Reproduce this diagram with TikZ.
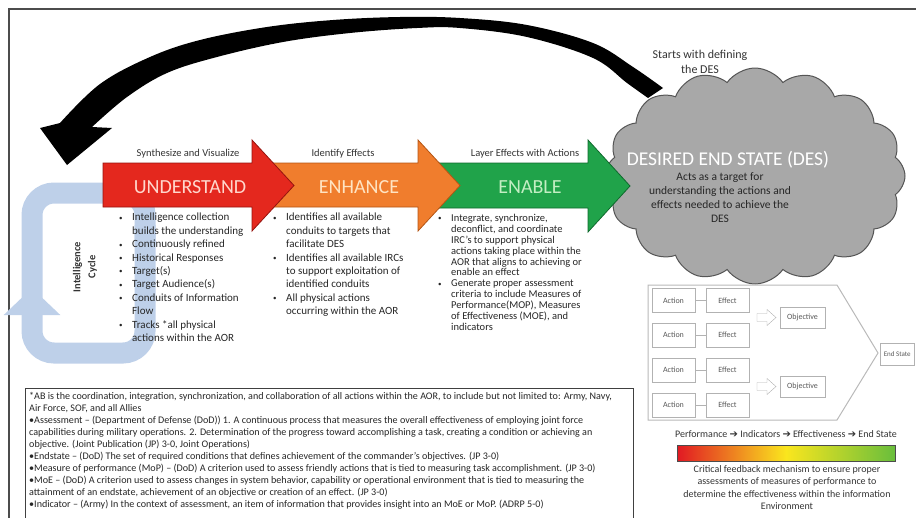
\documentclass[tikz,border=0pt]{standalone}
\usepackage{fontspec}
\setmainfont{Carlito}
\newfontfamily\symfont{DejaVu Sans}
\usetikzlibrary{arrows.meta}
\usetikzlibrary{shapes.symbols}
\usetikzlibrary{positioning}
\definecolor{redfill}{RGB}{228,40,30}
\definecolor{redline}{RGB}{150,20,15}
\definecolor{orgfill}{RGB}{240,125,45}
\definecolor{orgline}{RGB}{180,85,20}
\definecolor{grnfill}{RGB}{32,163,74}
\definecolor{grnline}{RGB}{15,105,45}
\definecolor{cycblue}{RGB}{190,208,233}
\definecolor{cloudgray}{RGB}{168,168,168}
\definecolor{cloudline}{RGB}{85,85,85}
\definecolor{gradred}{RGB}{225,25,35}
\definecolor{gradyel}{RGB}{250,230,30}
\definecolor{gradgrn}{RGB}{105,190,60}
\newcommand{\itm}{\makebox[13pt][l]{\raisebox{0.5pt}{\scriptsize\textbullet}}}
\newcommand{\nxt}{\hspace*{13pt}}
\tikzstyle{lbl}=[font=\fontsize{10.5}{12}\selectfont,text=black!80,inner sep=0pt,anchor=base]
\tikzstyle{word}=[font=\fontsize{20}{24}\selectfont,inner sep=0pt,anchor=base]
\tikzstyle{lst}=[font=\fontsize{11}{13.4}\selectfont,align=left,anchor=north west,inner sep=0pt,text=black!85]
\tikzstyle{ae}=[draw=gray!60,fill=white,minimum width=43pt,minimum height=24pt,inner sep=0pt,font=\fontsize{8}{9}\selectfont,text=gray!70!black]
\tikzstyle{cyc}=[line width=21pt,draw=cycblue,rounded corners=22pt]

\begin{document}
\begin{tikzpicture}[x=1pt,y=-1pt]
        \useasboundingbox (0,0) rectangle (916,517);
        \draw[black!70,line width=1.3pt] (9,540) -- (9,9) -- (930,9);

        \draw[cyc] (32,300) -- (32,193) -- (145,193) -- (145,245);
        \draw[cyc,-{Triangle[width=55pt,length=27pt]}] (145,225) -- (145,353) -- (32,353) -- (32,288);
        \node[rotate=90,font=\bfseries\fontsize{10.5}{15}\selectfont,align=center,text=black!80] (cycle) at (85,267) {Intelligence\\Cycle};

        \fill[black] (40,128) -- plot[smooth,tension=0.6] coordinates {(60,123) (100,84) (150,57) (200,40) (267,27) (333,20) (400,17) (460,18) (527,25) (593,43) (633,67) (663,88)}
          -- plot[smooth,tension=0.6] coordinates {(648,98) (627,83) (593,58) (527,37) (460,28) (417,28) (350,33) (283,42) (217,57) (167,73) (127,97) (92,127)}
          -- (112,128) -- (67,165) -- cycle;

        \node[cloud,cloud puffs=16,cloud puff arc=110,aspect=1.25,draw=cloudline,fill=cloudgray,line width=1pt,minimum width=300pt,minimum height=216pt,inner sep=0pt] (des) at (755,176) {};
        \node[font=\fontsize{19.5}{22}\selectfont,text=white,inner sep=0pt,anchor=base] (destitle) at (728,165) {DESIRED END STATE (DES)};
        \node[font=\fontsize{11.5}{14}\selectfont,align=center,anchor=north,inner sep=0pt,text=black!85] (destext) at (720,172) {Acts as a target for\\understanding the actions and\\effects needed to achieve the\\DES};
        \node[font=\fontsize{12}{14.6}\selectfont,align=center,anchor=north,inner sep=0pt,text=black!80] (start) at (700,50) {Starts with defining\\the DES};

        \filldraw[fill=grnfill,draw=grnline,line width=0.8pt] (435,163) -- (588,163) -- (588,140) -- (630,186) -- (588,232) -- (588,208) -- (435,208) -- cycle;
        \filldraw[fill=orgfill,draw=orgline,line width=0.8pt] (268,163) -- (418,163) -- (418,140) -- (460,185.5) -- (418,231) -- (418,207) -- (268,207) -- cycle;
        \filldraw[fill=redfill,draw=redline,line width=0.8pt] (103,163) -- (252,163) -- (252,140) -- (294,185.5) -- (252,231) -- (252,207) -- (103,207) -- cycle;

        \node[word,text={rgb,255:red,255;green,215;blue,205}] (und) at (190,193) {UNDERSTAND};
        \node[word,text={rgb,255:red,255;green,228;blue,195}] (enh) at (359,193) {ENHANCE};
        \node[word,text={rgb,255:red,195;green,238;blue,195}] (ena) at (530,193) {ENABLE};
        \node[lbl] (synth) at (188,156) {Synthesize and Visualize};
        \node[lbl] (ident) at (343,156) {Identify Effects};
        \node[lbl] (layer) at (525,156) {Layer Effects with Actions};

        \node[lst] (ulist) at (119,213) {\itm Intelligence collection\\\nxt builds the understanding\\\itm Continuously refined\\\itm Historical Responses\\\itm Target(s)\\\itm Target Audience(s)\\\itm Conduits of Information\\\nxt Flow\\\itm Tracks *all physical\\\nxt actions within the AOR};
        \node[lst] (hlist) at (273,213) {\itm Identifies all available\\\nxt conduits to targets that\\\nxt facilitate DES\\\itm Identifies all available IRCs\\\nxt to support exploitation of\\\nxt identified conduits\\\itm All physical actions\\\nxt occurring within the AOR};
        \node[lst,font=\fontsize{10.5}{10.9}\selectfont] (blist) at (438,214) {\itm Integrate, synchronize,\\\nxt deconflict, and coordinate\\\nxt IRC's to support physical\\\nxt actions taking place within the\\\nxt AOR that aligns to achieving or\\\nxt enable an effect\\\itm Generate proper assessment\\\nxt criteria to include Measures of\\\nxt Performance(MOP), Measures\\\nxt of Effectiveness (MOE), and\\\nxt indicators};

        \draw[gray!55,line width=1pt] (648,285) -- (837,285) -- (878,353) -- (837,420) -- (648,420) -- cycle;
        \foreach \r/\yy in {1/300.5,2/335,3/370,4/405} {
          \node[ae] (act\r) at (673.5,\yy) {Action};
          \node[ae] (eff\r) at (727.5,\yy) {Effect};
          \draw[gray!60] (act\r) -- (eff\r);
        }
        \foreach \yy in {317.5,386.5}
          \draw[gray!60,fill=white] (757,\yy-4) -- (767,\yy-4) -- (767,\yy-8) -- (776,\yy) -- (767,\yy+8) -- (767,\yy+4) -- (757,\yy+4) -- cycle;
        \node[ae,minimum width=45pt,minimum height=21pt] (obj1) at (802.5,317.5) {Objective};
        \node[ae,minimum width=45pt,minimum height=21pt] (obj2) at (802.5,386.5) {Objective};
        \node[ae,minimum width=34pt,minimum height=22pt,anchor=west,font=\fontsize{7}{8}\selectfont] (endst) at (880,354) {End State};

        \node[font=\fontsize{10}{12}\selectfont,text=black!80,inner sep=0pt] (scale) at (786,434) {Performance {\symfont ➔} Indicators {\symfont ➔} Effectiveness {\symfont ➔} End State};
        \shade[left color=gradred,right color=gradgrn,middle color=gradyel] (677,445) rectangle (895,461);
        \draw[black!70,line width=1pt] (677,445) rectangle (895,461);
        \node[font=\fontsize{10}{12.5}\selectfont,align=center,anchor=north,inner sep=0pt,text=black!80] (feedback) at (787,465) {Critical feedback mechanism to ensure proper\\assessments of measures of performance to\\determine the effectiveness within the information\\Environment};

        \draw[black!75,line width=0.8pt] (25,388) rectangle (633,545);
        \node[font=\fontsize{10.1}{12}\selectfont,align=left,anchor=north west,inner sep=0pt,text=black!85] (notes) at (29,392) {*AB is the coordination, integration, synchronization, and collaboration of all actions within the AOR, to include but not limited to: Army, Navy,\\
Air Force, SOF, and all Allies\\
\textbullet Assessment -- (Department of Defense (DoD)) 1. A continuous process that measures the overall effectiveness of employing joint force\\
capabilities during military operations. 2. Determination of the progress toward accomplishing a task, creating a condition or achieving an\\
objective. (Joint Publication (JP) 3-0, Joint Operations)\\
\textbullet Endstate -- (DoD) The set of required conditions that defines achievement of the commander's objectives. (JP 3-0)\\
\textbullet Measure of performance (MoP) -- (DoD) A criterion used to assess friendly actions that is tied to measuring task accomplishment. (JP 3-0)\\
\textbullet MoE -- (DoD) A criterion used to assess changes in system behavior, capability or operational environment that is tied to measuring the\\
attainment of an endstate, achievement of an objective or creation of an effect. (JP 3-0)\\
\textbullet Indicator -- (Army) In the context of assessment, an item of information that provides insight into an MoE or MoP. (ADRP 5-0)};
\end{tikzpicture}
\end{document}
